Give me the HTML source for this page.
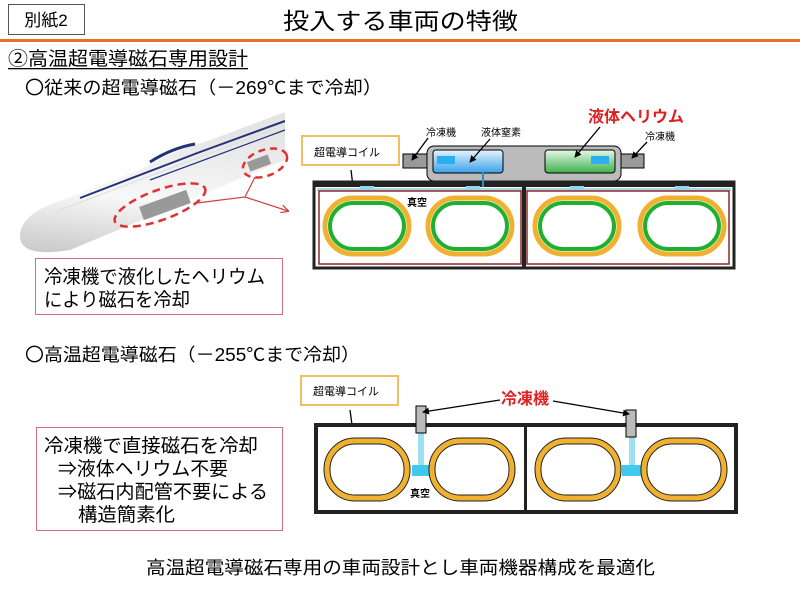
<!DOCTYPE html>
<html><head><meta charset="utf-8"><style>
html,body{margin:0;padding:0;background:#fff;}
svg{display:block;font-family:"Liberation Sans","Noto Sans CJK JP",sans-serif;}
</style></head><body>
<svg width="800" height="600" viewBox="0 0 800 600" xmlns="http://www.w3.org/2000/svg">
<defs>
<linearGradient id="tr" x1="0" y1="1" x2="0.2" y2="0"><stop offset="0" stop-color="#c8c8c8"/><stop offset="0.45" stop-color="#f8f8f8"/><stop offset="1" stop-color="#e4e4e4"/></linearGradient>
<linearGradient id="bl" x1="0" y1="0" x2="0" y2="1"><stop offset="0" stop-color="#e8f4ff"/><stop offset="1" stop-color="#3aa0e8"/></linearGradient>
<linearGradient id="gr" x1="0" y1="0" x2="0" y2="1"><stop offset="0" stop-color="#e8f8e8"/><stop offset="1" stop-color="#3cb04a"/></linearGradient>
<marker id="ar" markerWidth="8" markerHeight="8" refX="7" refY="4" orient="auto" markerUnits="userSpaceOnUse"><path d="M0,0 L8,4 L0,8" fill="none" stroke="#d04040" stroke-width="1.2"/></marker>
<marker id="ak" markerWidth="7" markerHeight="7" refX="6" refY="3.5" orient="auto" markerUnits="userSpaceOnUse"><path d="M0,0 L7,3.5 L0,7 Z" fill="#000"/></marker>
</defs>
<!-- header -->
<rect x="8.5" y="4.5" width="76" height="30" fill="#fff" stroke="#555"/>
<text x="46" y="26" font-size="17" text-anchor="middle">別紙2</text>
<text x="283" y="29" font-size="23" textLength="235" lengthAdjust="spacingAndGlyphs">投入する車両の特徴</text>
<rect x="0" y="39" width="800" height="3" fill="#e8702a"/>
<text x="8" y="65" font-size="19" textLength="240" lengthAdjust="spacingAndGlyphs">②高温超電導磁石専用設計</text>
<rect x="8" y="68" width="240" height="1.3" fill="#000"/>
<text x="25" y="94" font-size="18" textLength="357" lengthAdjust="spacingAndGlyphs">〇従来の超電導磁石（－269℃まで冷却）</text>

<!-- train -->
<path d="M20,236 Q20,214 62,200 L140,170 Q175,150 205,142 L285,112 L285,160 L70,250 Q20,258 20,236 Z" fill="url(#tr)"/>
<path d="M60,210 L285,125" stroke="#ddd" stroke-width="1" fill="none"/>
<path d="M80,198 L200,152 L285,121" stroke="#223377" stroke-width="2" fill="none"/>
<path d="M150,162 Q172,148 195,144" stroke="#223377" stroke-width="3" fill="none"/>
<path d="M150,180 L285,130" stroke="#223377" stroke-width="1.2" fill="none"/>
<rect x="140" y="198" width="50" height="14" fill="#999" transform="rotate(-20 165 205)"/>
<rect x="248" y="158" width="22" height="10" fill="#999" transform="rotate(-20 259 163)"/>
<ellipse cx="160" cy="205" rx="48" ry="15" fill="none" stroke="#e03030" stroke-width="2.5" stroke-dasharray="8,5" transform="rotate(-20 160 205)"/>
<ellipse cx="265" cy="163" rx="23" ry="13" fill="none" stroke="#e03030" stroke-width="2.5" stroke-dasharray="7,5" transform="rotate(-20 265 163)"/>
<path d="M197,203 L245,197 L255,177 M245,197 L288,211" stroke="#d04040" stroke-width="1.2" fill="none" marker-end="url(#ar)"/>

<!-- text box 1 -->
<rect x="35.5" y="258.5" width="247" height="56" fill="#fff" stroke="#d07080"/>
<text x="44" y="283" font-size="19" textLength="221" lengthAdjust="spacingAndGlyphs">冷凍機で液化したヘリウム</text>
<text x="44" y="306" font-size="19" textLength="146" lengthAdjust="spacingAndGlyphs">により磁石を冷却</text>

<!-- top diagram -->
<rect x="302" y="136" width="97" height="29" fill="#fff" stroke="#f0c060" stroke-width="2"/>
<text x="314" y="156" font-size="11">超電導コイル</text>
<rect x="403" y="154" width="28" height="14" fill="#999" stroke="#000"/>
<rect x="616" y="154" width="28" height="14" fill="#999" stroke="#000"/>
<rect x="427" y="146" width="194" height="35" rx="7" fill="#bbb" stroke="#000"/>
<rect x="433" y="150" width="70" height="23" rx="3" fill="url(#bl)" stroke="#000"/>
<rect x="437" y="156" width="18" height="8" fill="#2ab0f0"/>
<rect x="545" y="150" width="70" height="23" rx="3" fill="url(#gr)" stroke="#000"/>
<rect x="591" y="156" width="18" height="8" fill="#2ab0f0"/>
<text x="426" y="136" font-size="10">冷凍機</text>
<text x="481" y="136" font-size="10">液体窒素</text>
<text x="645" y="140" font-size="10">冷凍機</text>
<text x="588" y="122" font-size="16" font-weight="bold" fill="#e02020">液体ヘリウム</text>
<path d="M428,138 L412,160" stroke="#000" stroke-width="1.3" marker-end="url(#ak)"/>
<path d="M490,139 L470,162" stroke="#000" stroke-width="1.3" marker-end="url(#ak)"/>
<path d="M600,127 L575,157" stroke="#000" stroke-width="1.3" marker-end="url(#ak)"/>
<path d="M647,142 L632,158" stroke="#000" stroke-width="1.3" marker-end="url(#ak)"/>
<path d="M351,170 L355,203" stroke="#000" stroke-width="1.3"/>
<rect x="314" y="182" width="420" height="86" fill="#fff" stroke="#222" stroke-width="3"/>
<rect x="314" y="181" width="420" height="6" fill="#222"/>
<rect x="317" y="188" width="414" height="3" fill="#a8d8e8"/>
<rect x="319" y="191" width="202" height="73" fill="none" stroke="#8b2a2a" stroke-width="1.5"/>
<rect x="527" y="191" width="202" height="73" fill="none" stroke="#8b2a2a" stroke-width="1.5"/>
<rect x="522" y="182" width="4" height="86" fill="#222"/>
<rect x="360" y="186" width="14" height="4" fill="#8ed8ee"/>
<rect x="466" y="186" width="14" height="4" fill="#8ed8ee"/>
<rect x="570" y="186" width="14" height="4" fill="#8ed8ee"/>
<rect x="675" y="186" width="14" height="4" fill="#8ed8ee"/>
<text x="407" y="206" font-size="10" font-weight="bold">真空</text>
<g fill="none">
<rect x="325" y="198" width="84" height="56" rx="28" stroke="#f0b030" stroke-width="5"/>
<rect x="330" y="203" width="74" height="46" rx="23" stroke="#20b030" stroke-width="4"/>
<rect x="428" y="198" width="84" height="56" rx="28" stroke="#f0b030" stroke-width="5"/>
<rect x="433" y="203" width="74" height="46" rx="23" stroke="#20b030" stroke-width="4"/>
<rect x="535" y="198" width="84" height="56" rx="28" stroke="#f0b030" stroke-width="5"/>
<rect x="540" y="203" width="74" height="46" rx="23" stroke="#20b030" stroke-width="4"/>
<rect x="640" y="198" width="84" height="56" rx="28" stroke="#f0b030" stroke-width="5"/>
<rect x="645" y="203" width="74" height="46" rx="23" stroke="#20b030" stroke-width="4"/>
</g>
<rect x="482" y="172" width="2" height="15" fill="#3090c0"/>

<!-- second section -->
<text x="25" y="361" font-size="18" textLength="335" lengthAdjust="spacingAndGlyphs">〇高温超電導磁石（－255℃まで冷却）</text>
<rect x="36.5" y="427.5" width="246" height="103" fill="#fff" stroke="#d07080"/>
<text x="44" y="452" font-size="19" textLength="214" lengthAdjust="spacingAndGlyphs">冷凍機で直接磁石を冷却</text>
<text x="58" y="475" font-size="19" textLength="170" lengthAdjust="spacingAndGlyphs">⇒液体ヘリウム不要</text>
<text x="58" y="498" font-size="19" textLength="210" lengthAdjust="spacingAndGlyphs">⇒磁石内配管不要による</text>
<text x="78" y="521" font-size="19" textLength="97" lengthAdjust="spacingAndGlyphs">構造簡素化</text>

<rect x="301" y="376" width="97" height="29" fill="#fff" stroke="#f0c060" stroke-width="2"/>
<text x="313" y="395" font-size="11">超電導コイル</text>
<path d="M350,410 L354,440" stroke="#000" stroke-width="1.3"/>
<rect x="316" y="425" width="420" height="87" fill="#fff" stroke="#222" stroke-width="4"/>
<rect x="524" y="425" width="3" height="87" fill="#222"/>
<rect x="418" y="432" width="6" height="35" fill="#9ee0f0"/>
<rect x="629" y="436" width="6" height="31" fill="#9ee0f0"/>
<rect x="412" y="465" width="20" height="11" fill="#40c8f0"/>
<rect x="622" y="465" width="20" height="11" fill="#40c8f0"/>
<g fill="none" stroke="#f0b030" stroke-width="6">
<rect x="327" y="441" width="80" height="57" rx="28"/>
<rect x="432" y="441" width="80" height="57" rx="28"/>
<rect x="538" y="441" width="80" height="57" rx="28"/>
<rect x="644" y="441" width="80" height="57" rx="28"/>
</g>
<g fill="none" stroke="#222" stroke-width="1">
<rect x="324" y="438" width="86" height="63" rx="31"/><rect x="330" y="444" width="74" height="51" rx="25"/>
<rect x="429" y="438" width="86" height="63" rx="31"/><rect x="435" y="444" width="74" height="51" rx="25"/>
<rect x="535" y="438" width="86" height="63" rx="31"/><rect x="541" y="444" width="74" height="51" rx="25"/>
<rect x="641" y="438" width="86" height="63" rx="31"/><rect x="647" y="444" width="74" height="51" rx="25"/>
</g>
<rect x="416" y="406" width="10" height="27" fill="#bbb" stroke="#000"/>
<rect x="626" y="410" width="10" height="27" fill="#bbb" stroke="#000"/>
<text x="410" y="497" font-size="10" font-weight="bold">真空</text>
<text x="525" y="404" font-size="16" font-weight="bold" fill="#e02020" text-anchor="middle">冷凍機</text>
<path d="M500,400 L423,412" stroke="#000" stroke-width="1.2" marker-end="url(#ak)"/>
<path d="M553,401 L629,414" stroke="#000" stroke-width="1.2" marker-end="url(#ak)"/>

<text x="146" y="574" font-size="18" textLength="509" lengthAdjust="spacingAndGlyphs">高温超電導磁石専用の車両設計とし車両機器構成を最適化</text>
</svg>
</body></html>
